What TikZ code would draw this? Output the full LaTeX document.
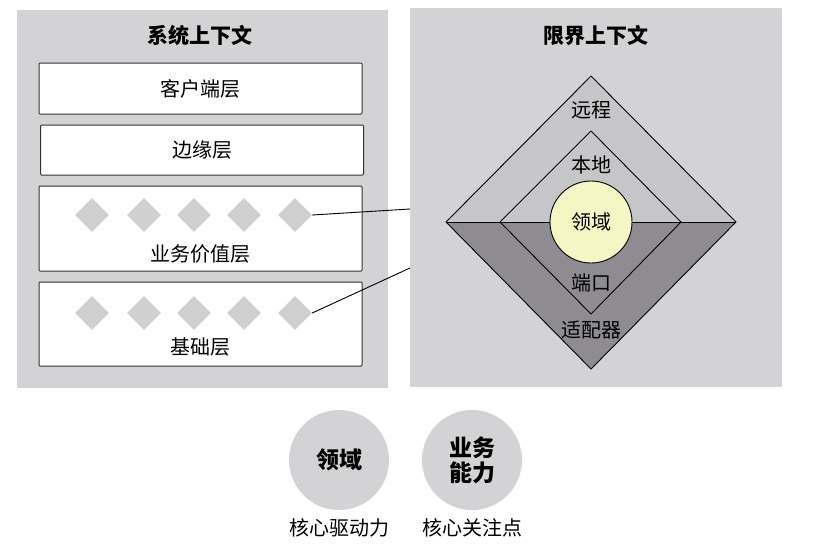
\documentclass[tikz,border=0pt]{standalone}
\usepackage{fontspec}
\setmainfont{Noto Sans CJK SC}
\usetikzlibrary{shapes.geometric}
\definecolor{panelgray}{HTML}{D3D3D5}
\definecolor{upgray}{HTML}{C6C6C9}
\definecolor{downgray}{HTML}{8E8C91}
\definecolor{coreyellow}{HTML}{F5F6C3}
\definecolor{chipgray}{HTML}{CFCFCF}
\definecolor{linegray}{HTML}{333333}
\tikzset{
  layer/.style={draw=linegray,fill=white,line width=1pt,rounded corners=1pt,minimum width=323,inner sep=0pt},
  chip/.style={diamond,aspect=1,fill=chipgray,minimum size=34,inner sep=0pt},
  ttl/.style={font=\fontsize{21}{24}\selectfont\bfseries},
  txt/.style={font=\fontsize{20}{22}\selectfont},
  bubble/.style={circle,fill=panelgray,minimum size=100,inner sep=0pt,align=center,font=\fontsize{23}{25}\selectfont\bfseries}
}
\begin{document}
\begin{tikzpicture}[x=1pt,y=-1pt]
\useasboundingbox (0,0) rectangle (821,557);
\fill[panelgray] (17,10) rectangle (388,388);
\fill[panelgray] (410,8) rectangle (782,387);
\node[ttl] (sysctx) at (200,35) {系统上下文};
\node[ttl] (bndctx) at (596,35) {限界上下文};
\node[layer,minimum height=51,txt] (client) at (200.5,88.5) {客户端层};
\node[layer,minimum height=50,txt] (edge) at (202,150) {边缘层};
\node[layer,minimum height=85] (value) at (200.5,228.5) {};
\node[txt] at (200.5,254) {业务价值层};
\node[layer,minimum height=84] (base) at (200.5,324) {};
\node[txt] at (200.5,347) {基础层};
\foreach \x [count=\i] in {92,144,194,244,295} {
  \node[chip] (v\i) at (\x,215) {};
  \node[chip] (b\i) at (\x,313) {};
}
\coordinate (in1) at (410,209);
\coordinate (in2) at (410,268);
\draw[line width=0.9pt] (v5.east) -- (in1);
\draw[line width=0.9pt] (b5.east) -- (in2);
\fill[upgray] (446,222) -- (591,76) -- (736,222) -- cycle;
\fill[downgray] (446,222) -- (591,369) -- (736,222) -- cycle;
\draw[line width=0.9pt,line join=round] (446,222) -- (591,76) -- (736,222) -- (591,369) -- cycle;
\draw[line width=0.9pt,line join=round] (500,222) -- (591,131) -- (681,222) -- (591,314) -- cycle;
\draw[line width=0.9pt] (446,222) -- (736,222);
\node[circle,draw=black,line width=0.9pt,fill=coreyellow,minimum size=82,inner sep=0pt,txt] (domain) at (591,222) {领域};
\node[txt] (remote) at (591,110) {远程};
\node[txt] (local) at (591,165) {本地};
\node[txt] (port) at (591,283) {端口};
\node[txt] (adapter) at (591,330) {适配器};
\node[bubble] (core) at (339,460) {领域};
\node[bubble] (biz) at (472,460) {业务\\能力};
\node[txt,below=5pt] (drive) at (core.south) {核心驱动力};
\node[txt,below=5pt] (focus) at (biz.south) {核心关注点};
\end{tikzpicture}
\end{document}
